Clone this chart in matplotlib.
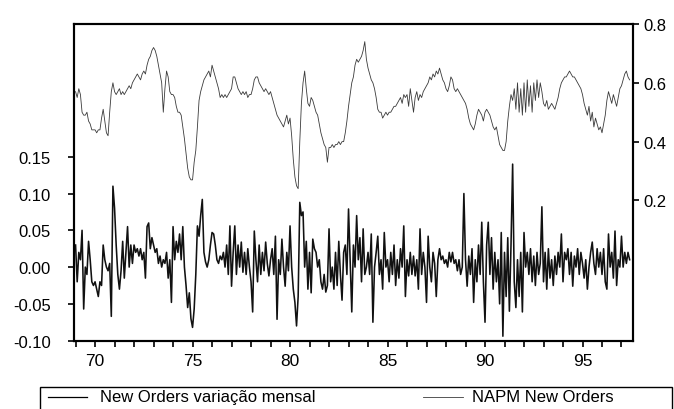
import numpy as np
import matplotlib
matplotlib.use("Agg")
import matplotlib.pyplot as plt
from matplotlib.patches import Rectangle
from matplotlib.lines import Line2D

plt.rcParams['font.family'] = ['Liberation Sans', 'DejaVu Sans']
plt.rcParams['axes.unicode_minus'] = False

# ---------------- data (monthly, Jan 1969 - Jun 1997) ----------------
start_year = 1969
series_left_name = "New Orders variação mensal"
series_right_name = "NAPM New Orders"

new_orders_chg = [
    0.03, -0.02, 0.02, 0.01, 0.05, -0.057, 0.0, -0.01, 0.035, 0.01, -0.02, -0.025,      # 69
    -0.02, -0.03, -0.04, -0.02, -0.025, 0.03, 0.01, 0.0, -0.005, 0.005, -0.067, 0.11,   # 70
    0.08, 0.03, -0.01, -0.03, -0.005, 0.035, -0.015, 0.02, 0.055, 0.0, 0.03, 0.005,     # 71
    0.03, 0.02, 0.025, 0.015, 0.025, 0.01, 0.02, -0.015, 0.055, 0.06, 0.025, 0.04,      # 72
    0.03, 0.02, 0.025, 0.005, 0.015, 0.0, 0.01, 0.005, 0.02, -0.015, 0.01, -0.048,      # 73
    0.055, 0.01, 0.035, 0.02, 0.045, 0.01, 0.055, 0.0, -0.025, -0.055, -0.035, -0.07,   # 74
    -0.082, -0.057, -0.01, 0.056, 0.042, 0.07, 0.092, 0.02, 0.007, 0.0, 0.01, 0.03,     # 75
    0.047, 0.045, 0.03, 0.01, 0.005, 0.015, 0.01, 0.02, 0.0, 0.03, -0.01, 0.056,        # 76
    -0.026, 0.02, 0.056, -0.01, 0.03, 0.0, 0.034, -0.007, 0.02, -0.01, 0.025, 0.0,      # 77
    -0.02, -0.061, 0.049, 0.01, -0.02, 0.03, -0.01, 0.02, -0.005, 0.034, 0.005, -0.012, # 78
    0.01, 0.025, -0.01, 0.042, -0.071, 0.01, -0.01, 0.038, 0.0, -0.026, 0.02, -0.005,   # 79
    0.056, 0.0, -0.03, -0.048, -0.08, -0.04, 0.088, 0.07, 0.075, 0.0, 0.035, -0.03,     # 80
    0.02, -0.035, 0.038, 0.025, 0.02, 0.0, 0.01, -0.02, -0.03, -0.01, -0.034, -0.025,   # 81
    0.052, -0.02, 0.0, -0.03, 0.02, -0.025, 0.035, -0.01, -0.045, 0.02, 0.03, -0.01,    # 82
    0.079, 0.01, -0.061, 0.03, 0.0, 0.07, 0.01, 0.04, -0.02, 0.052, -0.01, 0.0,         # 83
    0.02, -0.01, 0.045, -0.075, 0.0, 0.02, 0.042, -0.01, 0.01, -0.03, 0.047, 0.0,       # 84
    0.01, -0.02, 0.02, -0.01, 0.03, -0.025, 0.01, -0.015, 0.025, 0.0, 0.056, -0.04,     # 85
    0.01, -0.012, 0.02, -0.01, 0.015, -0.012, 0.01, -0.03, 0.052, -0.01, 0.02, 0.0,     # 86
    -0.048, 0.042, 0.0, -0.02, 0.02, 0.005, -0.04, 0.01, 0.025, 0.01, 0.015, 0.005,     # 87
    0.01, 0.0, 0.02, 0.007, 0.02, 0.005, 0.01, -0.005, 0.01, -0.01, 0.0, 0.10,          # 88
    0.01, -0.026, 0.015, -0.01, 0.025, -0.048, 0.01, -0.02, 0.03, -0.01, 0.061, -0.02,  # 89
    -0.075, 0.03, 0.061, -0.01, 0.04, -0.03, 0.02, -0.02, 0.01, -0.05, 0.047, -0.094,   # 90
    0.02, -0.04, 0.04, -0.06, 0.03, 0.14, -0.02, -0.055, 0.01, -0.04, 0.02, -0.061,     # 91
    0.047, 0.0, 0.02, -0.01, 0.025, -0.02, 0.015, -0.025, 0.02, -0.01, 0.005, 0.082,    # 92
    -0.02, 0.02, -0.03, 0.025, -0.015, 0.01, -0.025, 0.015, -0.01, 0.02, 0.0, 0.045,    # 93
    -0.02, 0.02, 0.01, 0.025, -0.01, 0.02, -0.026, 0.015, 0.0, 0.025, -0.01, 0.02,      # 94
    0.005, -0.015, 0.01, -0.03, 0.0, 0.02, 0.034, 0.005, -0.01, 0.025, 0.0, 0.02,       # 95
    -0.01, 0.025, -0.02, -0.03, 0.045, 0.0, 0.02, -0.015, 0.049, -0.025, 0.01, 0.0,     # 96
    0.042, 0.0, 0.02, 0.005, 0.02, 0.01,                                                # 97
]

napm_new_orders = [
    0.57, 0.55, 0.58, 0.56, 0.50, 0.49, 0.49, 0.50, 0.47, 0.46, 0.44, 0.44,  # 69
    0.44, 0.43, 0.44, 0.44, 0.48, 0.51, 0.47, 0.43, 0.42, 0.50, 0.57, 0.60,  # 70
    0.57, 0.56, 0.57, 0.58, 0.56, 0.57, 0.56, 0.57, 0.58, 0.59, 0.58, 0.60,  # 71
    0.61, 0.62, 0.63, 0.62, 0.61, 0.63, 0.64, 0.63, 0.66, 0.68, 0.69, 0.71,  # 72
    0.72, 0.71, 0.69, 0.66, 0.63, 0.60, 0.50, 0.58, 0.64, 0.62, 0.57, 0.56,  # 73
    0.56, 0.55, 0.52, 0.50, 0.50, 0.49, 0.45, 0.41, 0.36, 0.31, 0.28, 0.27,  # 74
    0.27, 0.33, 0.37, 0.45, 0.54, 0.57, 0.59, 0.61, 0.62, 0.63, 0.64, 0.62,  # 75
    0.66, 0.64, 0.62, 0.60, 0.58, 0.55, 0.56, 0.55, 0.56, 0.55, 0.56, 0.57,  # 76
    0.58, 0.62, 0.62, 0.60, 0.58, 0.57, 0.56, 0.57, 0.56, 0.57, 0.55, 0.56,  # 77
    0.56, 0.58, 0.61, 0.62, 0.62, 0.60, 0.59, 0.58, 0.57, 0.58, 0.57, 0.56,  # 78
    0.57, 0.55, 0.53, 0.51, 0.49, 0.48, 0.47, 0.46, 0.45, 0.47, 0.49, 0.46,  # 79
    0.48, 0.42, 0.34, 0.28, 0.25, 0.24, 0.40, 0.53, 0.60, 0.64, 0.58, 0.53,  # 80
    0.52, 0.55, 0.54, 0.52, 0.50, 0.49, 0.46, 0.43, 0.41, 0.39, 0.38, 0.33,  # 81
    0.38, 0.38, 0.39, 0.38, 0.39, 0.39, 0.40, 0.39, 0.40, 0.40, 0.43, 0.47,  # 82
    0.52, 0.56, 0.60, 0.62, 0.66, 0.68, 0.67, 0.68, 0.69, 0.71, 0.74, 0.68,  # 83
    0.65, 0.63, 0.61, 0.60, 0.58, 0.55, 0.51, 0.50, 0.50, 0.48, 0.49, 0.50,  # 84
    0.49, 0.50, 0.50, 0.51, 0.52, 0.52, 0.53, 0.54, 0.55, 0.53, 0.56, 0.55,  # 85
    0.56, 0.52, 0.58, 0.54, 0.50, 0.55, 0.57, 0.54, 0.56, 0.55, 0.57, 0.58,  # 86
    0.59, 0.60, 0.62, 0.61, 0.63, 0.62, 0.64, 0.63, 0.65, 0.63, 0.61, 0.60,  # 87
    0.58, 0.57, 0.59, 0.62, 0.61, 0.58, 0.57, 0.58, 0.57, 0.56, 0.55, 0.54,  # 88
    0.53, 0.51, 0.48, 0.46, 0.45, 0.44, 0.46, 0.49, 0.51, 0.50, 0.49, 0.47,  # 89
    0.50, 0.51, 0.50, 0.49, 0.47, 0.45, 0.44, 0.45, 0.42, 0.39, 0.38, 0.37,  # 90
    0.37, 0.40, 0.47, 0.52, 0.56, 0.54, 0.58, 0.51, 0.60, 0.50, 0.58, 0.49,  # 91
    0.60, 0.50, 0.61, 0.52, 0.59, 0.50, 0.60, 0.54, 0.61, 0.55, 0.60, 0.57,  # 92
    0.53, 0.52, 0.54, 0.51, 0.52, 0.53, 0.52, 0.51, 0.53, 0.55, 0.58, 0.60,  # 93
    0.61, 0.62, 0.62, 0.63, 0.64, 0.63, 0.62, 0.62, 0.61, 0.60, 0.59, 0.58,  # 94
    0.56, 0.53, 0.51, 0.49, 0.52, 0.47, 0.50, 0.45, 0.48, 0.46, 0.44, 0.45,  # 95
    0.43, 0.46, 0.49, 0.54, 0.57, 0.55, 0.53, 0.56, 0.54, 0.52, 0.55, 0.58,  # 96
    0.59, 0.61, 0.63, 0.64, 0.62, 0.61,                                      # 97
]

xtick_years = [1970, 1975, 1980, 1985, 1990, 1995]
xtick_labels = ["70", "75", "80", "85", "90", "95"]
left_ticks = [-0.10, -0.05, 0.00, 0.05, 0.10, 0.15]
right_ticks = [0.2, 0.4, 0.6, 0.8]

# ---------------- figure ----------------
W, H = 674, 410
fig = plt.figure(figsize=(W / 100, H / 100), dpi=100)
ax = fig.add_axes([74 / W, 1 - 342 / H, (633 - 74) / W, (342 - 25) / H])
ax2 = ax.twinx()

n = len(new_orders_chg)
t = start_year + np.arange(n) / 12.0

ax.plot(t, new_orders_chg, color='#111111', lw=1.15, zorder=3)
ax2.plot(t[:len(napm_new_orders)], napm_new_orders, color='#3a3a3a', lw=0.6)

ax.set_xlim(1968.92, 1997.59)
ax.set_ylim(-0.1005, 0.3305)
ax2.set_ylim(-0.278, 0.80)

ax.set_xticks(xtick_years)
ax.set_xticklabels(xtick_labels)
ax.set_xticks(np.arange(1969, 1998), minor=True)
ax.set_yticks(left_ticks)
ax.set_yticklabels([f"{v:.2f}" for v in left_ticks])
ax2.set_yticks(right_ticks)
ax2.set_yticklabels([f"{v:.1f}" for v in right_ticks])

ax.tick_params(axis='x', which='both', direction='out', length=4.5, width=1.2,
               labelsize=12.5, pad=4)
ax.tick_params(axis='y', direction='out', length=4.5, width=1.2, labelsize=12, pad=12)
ax2.tick_params(axis='y', direction='out', length=4.5, width=1.2, labelsize=12, pad=3)

for a in (ax, ax2):
    for s in a.spines.values():
        s.set_linewidth(1.5)
        s.set_color('black')

# legend box (below the plot)
fig.patches.append(Rectangle((40 / W, -0.02), (672 - 40) / W, 0.02 + (410 - 388) / H,
                             transform=fig.transFigure, fill=False,
                             edgecolor='black', lw=1.0))
ly = 1 - 398 / H
fig.lines.append(Line2D([48 / W, 87 / W], [ly, ly], transform=fig.transFigure,
                        color='black', lw=0.9))
fig.text(100 / W, ly, series_left_name, fontsize=12, va='center', ha='left')
fig.lines.append(Line2D([423 / W, 463 / W], [ly, ly], transform=fig.transFigure,
                        color='#3a3a3a', lw=0.6))
fig.text(472 / W, ly, series_right_name, fontsize=12, va='center', ha='left')

fig.savefig("out.png", dpi=100)
